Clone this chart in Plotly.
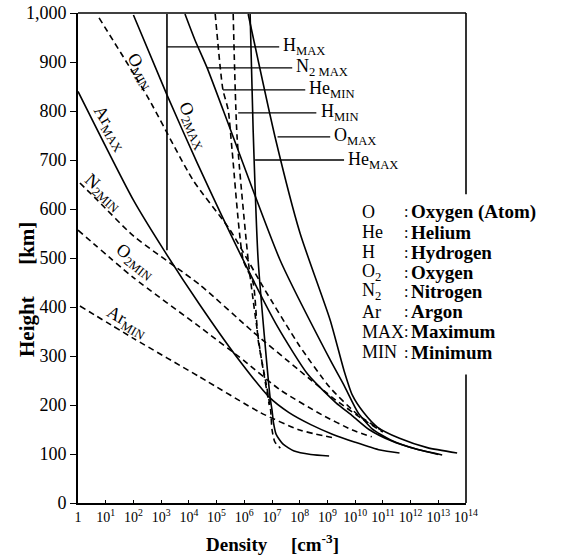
import plotly.graph_objects as go

# ---- data: log10 density [cm^-3] and height [km] ----
o_max_logn  = [6.14, 7.11, 8.01, 9.10, 9.60, 9.90, 10.30, 10.80, 11.60, 12.60, 13.68]
o_max_h     = [998, 747, 551, 373, 270, 220, 185, 155, 132, 113, 102]

n2_max_logn = [3.86, 4.22, 4.66, 5.60, 7.29, 9.10, 9.60, 10.10, 10.60, 11.30, 12.20, 13.14]
n2_max_h    = [998, 945, 888, 747, 496, 292, 240, 185, 152, 128, 110, 98]

o2_max_logn = [2.00, 3.21, 4.30, 5.96, 7.20, 8.30, 9.30, 9.90, 10.50, 11.30, 12.20, 13.00]
o2_max_h    = [996, 833, 694, 496, 360, 262, 205, 178, 150, 127, 110, 99]

ar_max_logn = [0.00, 2.00, 3.10, 4.40, 5.70, 6.90, 7.60, 8.40, 9.20, 10.00, 10.90, 11.60]
ar_max_h    = [840, 618, 516, 404, 300, 216, 185, 160, 140, 124, 108, 102]

he_max_logn = [6.21, 6.32, 6.50, 6.93, 7.00, 7.05, 7.15, 7.40, 7.80, 8.40, 9.06]
he_max_h    = [998, 761, 496, 216, 190, 165, 140, 120, 106, 99, 96]

h_max_logn  = [3.21, 3.21]
h_max_h     = [998, 516]

o_min_logn  = [0.76, 2.50, 4.15, 5.49, 6.68, 8.00, 9.10, 10.10, 10.90]
o_min_h     = [990, 830, 659, 557, 441, 320, 235, 180, 150]

n2_min_logn = [0.07, 0.70, 2.00, 4.40, 6.30, 8.00, 9.30, 10.30, 11.00]
n2_min_h    = [653, 618, 545, 445, 350, 270, 210, 170, 145]

o2_min_logn = [0.00, 2.00, 4.40, 6.00, 7.29, 8.80, 9.90, 10.60]
o2_min_h    = [557, 460, 359, 290, 231, 180, 149, 135]

ar_min_logn = [0.07, 2.00, 4.40, 6.60, 8.00, 9.30]
ar_min_h    = [402, 336, 257, 184, 149, 132]

he_min_logn = [4.95, 5.13, 5.23, 5.42, 5.56, 5.96, 6.32, 6.50, 6.80, 6.95, 7.00, 7.10, 7.30]
he_min_h    = [998, 890, 843, 802, 720, 496, 449, 333, 240, 190, 150, 125, 112]

h_min_logn  = [5.60, 5.74, 6.14, 6.32, 6.60, 6.90]
h_min_h     = [998, 747, 496, 414, 300, 200]

# leader labels: (text, curve log10 n, line end log10 n, height)
leader_text  = ["H<sub>MAX</sub>", "N<sub>2 MAX</sub>", "He<sub>MIN</sub>",
                "H<sub>MIN</sub>", "O<sub>MAX</sub>", "He<sub>MAX</sub>"]
leader_from  = [3.21, 4.66, 5.23, 5.78, 7.20, 6.39]
leader_to    = [7.26, 7.73, 8.20, 8.60, 9.10, 9.60]
leader_h     = [931, 888, 843, 796, 747, 700]

# in-plot rotated labels: (text, log10 n, height, angle)
curve_lbl_text  = ["O<sub>MIN</sub>", "O<sub>2MAX</sub>", "Ar<sub>MAX</sub>",
                   "N<sub>2MIN</sub>", "O<sub>2MIN</sub>", "Ar<sub>MIN</sub>"]
curve_lbl_logn  = [2.24, 4.15, 1.16, 0.90, 2.05, 1.77]
curve_lbl_h     = [880, 771, 765, 633, 492, 369]
curve_lbl_angle = [60, 66, 58, 42, 38, 30]

# legend block
legend_sym  = ["O", "He", "H", "O<sub>2</sub>", "N<sub>2</sub>", "Ar", "MAX", "MIN"]
legend_name = ["Oxygen (Atom)", "Helium", "Hydrogen", "Oxygen", "Nitrogen",
               "Argon", "Maximum", "Minimum"]
legend_h    = [594, 553, 512, 471, 431, 390, 349, 308]

x_exponents = list(range(0, 15))
y_ticks = list(range(0, 1001, 100))

FONT = "Liberation Serif"

fig = go.Figure()

solid = [(o_max_logn, o_max_h), (n2_max_logn, n2_max_h), (o2_max_logn, o2_max_h),
         (ar_max_logn, ar_max_h), (he_max_logn, he_max_h), (h_max_logn, h_max_h)]
dashed = [(o_min_logn, o_min_h), (n2_min_logn, n2_min_h), (o2_min_logn, o2_min_h),
          (ar_min_logn, ar_min_h), (he_min_logn, he_min_h), (h_min_logn, h_min_h)]

for lg, h in solid:
    fig.add_trace(go.Scatter(x=[10 ** v for v in lg], y=h, mode="lines",
                             line=dict(color="black", width=1.6, shape="spline", smoothing=0.6),
                             showlegend=False, hoverinfo="skip"))
for lg, h in dashed:
    fig.add_trace(go.Scatter(x=[10 ** v for v in lg], y=h, mode="lines",
                             line=dict(color="black", width=1.6, dash="6px,4px",
                                       shape="spline", smoothing=0.6),
                             showlegend=False, hoverinfo="skip"))

for t, a, b, h in zip(leader_text, leader_from, leader_to, leader_h):
    fig.add_trace(go.Scatter(x=[10 ** a, 10 ** b], y=[h, h], mode="lines",
                             line=dict(color="black", width=1.3),
                             showlegend=False, hoverinfo="skip"))
    fig.add_annotation(x=b + 0.08, y=h, xref="x", yref="y", text=t, showarrow=False,
                       xanchor="left", yanchor="middle",
                       font=dict(family=FONT, size=18, color="black"))

for t, lg, h, ang in zip(curve_lbl_text, curve_lbl_logn, curve_lbl_h, curve_lbl_angle):
    fig.add_annotation(x=lg, y=h, xref="x", yref="y", text=t, showarrow=False,
                       textangle=ang, xanchor="center", yanchor="middle",
                       font=dict(family=FONT, size=18, color="black"))

for s, n, h in zip(legend_sym, legend_name, legend_h):
    fig.add_annotation(x=0.728, y=h, xref="paper", yref="y", text=s, showarrow=False,
                       xanchor="left", yanchor="middle",
                       font=dict(family=FONT, size=18, color="black"))
    fig.add_annotation(x=0.835, y=h, xref="paper", yref="y", text=":", showarrow=False,
                       xanchor="left", yanchor="middle",
                       font=dict(family=FONT, size=16, color="black"))
    fig.add_annotation(x=0.853, y=h, xref="paper", yref="y", text="<b>%s</b>" % n,
                       showarrow=False, xanchor="left", yanchor="middle",
                       font=dict(family=FONT, size=19, color="black"))

# axis titles
fig.add_annotation(x=-0.131, y=0.435, xref="paper", yref="paper",
                   xanchor="center", yanchor="middle",
                   text="<b>Height</b>      <b>[km]</b>", textangle=-90, showarrow=False,
                   font=dict(family=FONT, size=21, color="black"))
fig.add_annotation(x=0.50, y=-0.082, xref="paper", yref="paper",
                   xanchor="center", yanchor="middle",
                   text="<b>Density</b>     <b>[cm<sup>-3</sup>]</b>", showarrow=False,
                   font=dict(family=FONT, size=19, color="black"))

# frame: top line and broken right line
fig.add_shape(type="line", xref="paper", yref="paper", x0=0, x1=1, y0=1, y1=1,
              line=dict(color="black", width=1.6))
fig.add_shape(type="line", xref="paper", yref="y", x0=1, x1=1, y0=1000, y1=630,
              line=dict(color="black", width=1.6))
fig.add_shape(type="line", xref="paper", yref="y", x0=1, x1=1, y0=262, y1=0,
              line=dict(color="black", width=1.6))

fig.update_xaxes(type="log", range=[0, 14], automargin=False,
                 tickvals=[10 ** e for e in x_exponents],
                 ticktext=["1"] + ["10<sup>%d</sup>" % e for e in x_exponents[1:]],
                 showline=True, linecolor="black", linewidth=2,
                 ticks="inside", ticklen=3, tickcolor="black",
                 showgrid=False, zeroline=False,
                 tickfont=dict(family=FONT, size=14, color="black"))
fig.update_yaxes(range=[0, 1000], tickvals=y_ticks, automargin=False,
                 ticktext=["{:,}".format(v) for v in y_ticks],
                 showline=True, linecolor="black", linewidth=2,
                 ticks="outside", ticklen=6, tickcolor="black",
                 showgrid=False, zeroline=False,
                 tickfont=dict(family=FONT, size=18, color="black"))

fig.update_layout(width=565, height=555, margin=dict(l=78, r=99, t=13, b=52, autoexpand=False),
                  paper_bgcolor="white", plot_bgcolor="white", showlegend=False)

fig.write_html("out.html", config={"displayModeBar": False},
               post_script="document.body.style.margin='0';")
